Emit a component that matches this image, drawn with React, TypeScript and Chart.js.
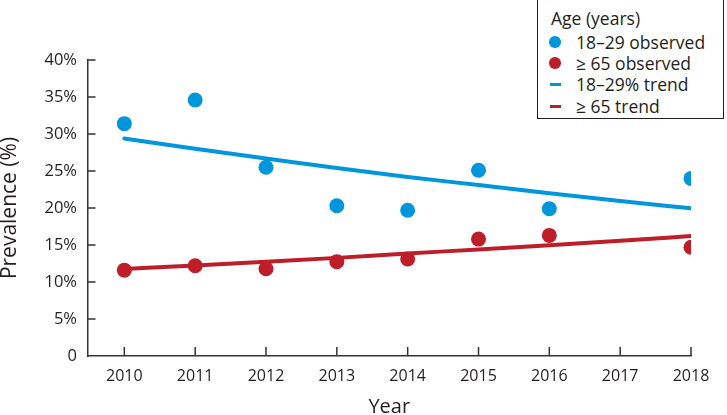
import React, { useEffect, useRef } from "react";
import { Chart, registerables } from "chart.js";

Chart.register(...registerables);

const trendYears = [2010, 2011, 2012, 2013, 2014, 2015, 2016, 2017, 2018];
const observedYears = [2010, 2011, 2012, 2013, 2014, 2015, 2016, 2018];
const youngObserved = [31.4, 34.6, 25.5, 20.3, 19.7, 25.1, 19.9, 24.0];
const oldObserved = [11.6, 12.2, 11.8, 12.75, 13.1, 15.8, 16.3, 14.7];
const youngTrend = [29.4, 28.0, 26.7, 25.4, 24.2, 23.1, 22.0, 20.95, 19.95];
const oldTrend = [11.76, 12.24, 12.74, 13.26, 13.85, 14.4, 14.98, 15.58, 16.2];
const yTickValues = [0, 5, 10, 15, 20, 25, 30, 35, 40];

const BLUE = "#0096db";
const RED = "#be1e2a";
const INK = "#231f20";
const FONT = "'Open Sans', sans-serif";

const legendTitle = "Age (years)";
const legendItems = [
  { label: "18–29 observed", color: BLUE, kind: "dot" },
  { label: "≥ 65 observed", color: RED, kind: "dot" },
  { label: "18–29% trend", color: BLUE, kind: "line" },
  { label: "≥ 65 trend", color: RED, kind: "line" },
];

const toPoints = (xs: number[], ys: number[]) => xs.map((x, i) => ({ x, y: ys[i] }));

const innerTicks = {
  id: "innerTicks",
  afterDraw(chart: any) {
    const { ctx, scales, chartArea } = chart;
    const xs = scales.x;
    const ys = scales.y;
    ctx.save();
    ctx.strokeStyle = "#333";
    ctx.lineWidth = 1.5;
    ctx.beginPath();
    ys.ticks.forEach((t: any) => {
      if (t.value === 0) return;
      const py = ys.getPixelForValue(t.value);
      ctx.moveTo(chartArea.left, py);
      ctx.lineTo(chartArea.left + 8, py);
    });
    xs.ticks.forEach((t: any) => {
      const px = xs.getPixelForValue(t.value);
      ctx.moveTo(px, chartArea.bottom);
      ctx.lineTo(px, chartArea.bottom - 9);
    });
    ctx.stroke();
    ctx.restore();
  },
};

export default function App() {
  const canvasRef = useRef<HTMLCanvasElement | null>(null);

  useEffect(() => {
    if (!canvasRef.current) return;
    const chart = new Chart(canvasRef.current, {
      type: "line",
      data: {
        datasets: [
          {
            label: "18–29 observed",
            data: toPoints(observedYears, youngObserved),
            showLine: false,
            pointRadius: 7.5,
            pointBackgroundColor: BLUE,
            pointBorderWidth: 0,
            borderColor: BLUE,
            order: 0,
          },
          {
            label: "≥ 65 observed",
            data: toPoints(observedYears, oldObserved),
            showLine: false,
            pointRadius: 7.5,
            pointBackgroundColor: RED,
            pointBorderWidth: 0,
            borderColor: RED,
            order: 0,
          },
          {
            label: "18–29% trend",
            data: toPoints(trendYears, youngTrend),
            borderColor: BLUE,
            borderWidth: 4,
            pointRadius: 0,
            tension: 0.4,
            cubicInterpolationMode: "monotone",
            borderCapStyle: "round",
            order: 1,
          },
          {
            label: "≥ 65 trend",
            data: toPoints(trendYears, oldTrend),
            borderColor: RED,
            borderWidth: 4,
            pointRadius: 0,
            tension: 0.4,
            cubicInterpolationMode: "monotone",
            borderCapStyle: "round",
            order: 1,
          },
        ],
      },
      options: {
        animation: false,
        responsive: true,
        maintainAspectRatio: false,
        layout: { padding: { top: 60, right: 36, left: 0, bottom: 0 } },
        plugins: { legend: { display: false }, tooltip: { enabled: false } },
        scales: {
          x: {
            type: "linear",
            min: 2009.48,
            max: 2018.0,
            afterBuildTicks: (scale: any) => {
              scale.ticks = trendYears.map((v) => ({ value: v }));
            },
            afterFit: (scale: any) => {
              scale.height = 59;
            },
            grid: { display: true, drawOnChartArea: false, drawTicks: false },
            border: { display: true, color: "#333", width: 1.5 },
            ticks: {
              padding: 11,
              color: INK,
              font: { family: FONT, size: 16 },
              callback: (v: any) => String(v),
              maxRotation: 0,
              autoSkip: false,
            },
            title: {
              display: true,
              text: "Year",
              color: INK,
              font: { family: FONT, size: 20, lineHeight: 1 },
              padding: { top: 0, bottom: -2 },
            },
          },
          y: {
            min: 0,
            max: 40,
            afterBuildTicks: (scale: any) => {
              scale.ticks = yTickValues.map((v) => ({ value: v }));
            },
            afterFit: (scale: any) => {
              scale.width = 87.5;
            },
            grid: { display: true, drawOnChartArea: false, drawTicks: false },
            border: { display: true, color: "#333", width: 1.5 },
            ticks: {
              padding: 10.5,
              color: INK,
              font: { family: FONT, size: 16.5 },
              callback: (v: any) => (v === 0 ? "0" : v + "%"),
            },
            title: {
              display: true,
              text: "Prevalence (%)",
              color: INK,
              font: { family: FONT, size: 21, lineHeight: 1 },
              padding: 0,
            },
          },
        },
      },
      plugins: [innerTicks],
    } as any);
    return () => chart.destroy();
  }, []);

  const rowTop = [32, 53, 74, 96];

  return (
    <div
      style={{
        position: "fixed",
        left: 0,
        top: 0,
        width: 727,
        height: 415,
        background: "#fff",
        fontFamily: FONT,
        color: INK,
        overflow: "hidden",
      }}
    >
      <canvas ref={canvasRef} />
      <div
        style={{
          position: "absolute",
          left: 537,
          top: -2,
          width: 187,
          height: 121,
          boxSizing: "border-box",
          border: `1.5px solid ${INK}`,
          background: "#fff",
        }}
      />
      <div
        style={{
          position: "absolute",
          left: 551,
          top: 8,
          fontSize: 17.5,
          lineHeight: "20px",
          whiteSpace: "nowrap",
        }}
      >
        {legendTitle}
      </div>
      {legendItems.map((it, i) => (
        <React.Fragment key={it.label}>
          {it.kind === "dot" ? (
            <div
              style={{
                position: "absolute",
                left: 555 - 5.8,
                top: rowTop[i] + 10 - 5.8,
                width: 11.6,
                height: 11.6,
                borderRadius: "50%",
                background: it.color,
              }}
            />
          ) : (
            <div
              style={{
                position: "absolute",
                left: 550,
                top: rowTop[i] + 10 - 1.5,
                width: 11,
                height: 3,
                background: it.color,
              }}
            />
          )}
          <div
            style={{
              position: "absolute",
              left: 576,
              top: rowTop[i],
              fontSize: 17.5,
              lineHeight: "20px",
              whiteSpace: "nowrap",
            }}
          >
            {it.label}
          </div>
        </React.Fragment>
      ))}
    </div>
  );
}
